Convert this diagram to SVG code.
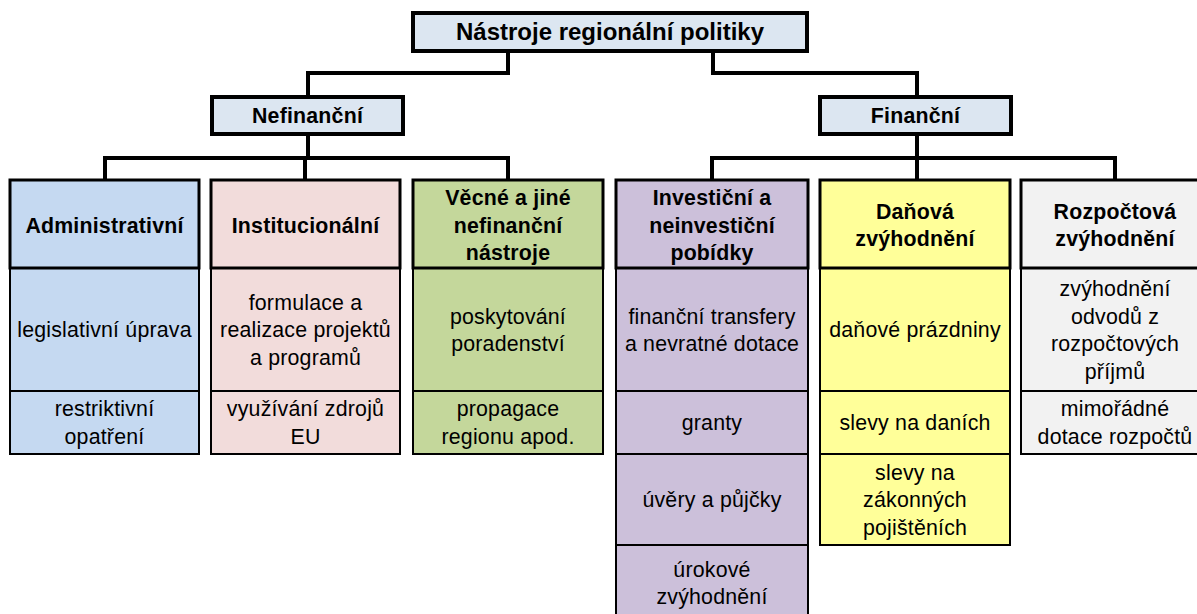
<svg xmlns="http://www.w3.org/2000/svg" width="1197" height="614" viewBox="0 0 1197 614">
<style>
text{font-family:"Liberation Sans",Arial,sans-serif;font-size:21.33px;fill:#000;text-anchor:middle;letter-spacing:0.2px}
.b{font-weight:bold}
.t{font-size:24px;font-weight:bold;letter-spacing:0}
.top{fill:#DCE6F1;stroke:#000;stroke-width:4}
.hd{stroke:#000;stroke-width:3}
.cl{stroke:#000;stroke-width:2}
.con{fill:none;stroke:#000;stroke-width:4}
.blue{fill:#C5D9F1}.pink{fill:#F2DCDB}.green{fill:#C4D79B}.purple{fill:#CCC0DA}.yellow{fill:#FFFF99}.grey{fill:#F2F2F2}
</style>
<rect width="1197" height="614" fill="#fff"/>
<g id="connectors">
<polyline class="con" points="508,51 508,73 308,73 308,97"/>
<polyline class="con" points="713,51 713,73 917,73 917,97"/>
<polyline class="con" points="308,134 308,158"/>
<polyline class="con" points="105,180 105,158 508,158 508,180"/>
<polyline class="con" points="305,158 305,180"/>
<polyline class="con" points="917,134 917,158"/>
<polyline class="con" points="712,180 712,158 1115,158 1115,180"/>
<polyline class="con" points="917,158 917,180"/>
</g>
<g id="root">
<rect class="top" x="413" y="13" width="394" height="38"/>
<text class="t" x="610" y="39.5">Nástroje regionální politiky</text>
</g>
<g id="nefinancni">
<rect class="top" x="212" y="97" width="191" height="37"/>
<text class="b" x="307.5" y="123">Nefinanční</text>
</g>
<g id="financni">
<rect class="top" x="820" y="97" width="191" height="37"/>
<text class="b" x="915.5" y="123">Finanční</text>
</g>
<g id="administrativni">
<rect class="cl blue" x="10" y="268" width="189" height="123"/>
<rect class="cl blue" x="10" y="391" width="189" height="63"/>
<rect class="hd blue" x="10" y="180" width="189" height="88"/>
<text class="b" x="104.5" y="232.5">Administrativní</text>
<text x="104.5" y="337">legislativní úprava</text>
<text x="104.5" y="416">restriktivní</text>
<text x="104.5" y="443.5">opatření</text>
</g>
<g id="institucionalni">
<rect class="cl pink" x="211" y="268" width="189" height="123"/>
<rect class="cl pink" x="211" y="391" width="189" height="63"/>
<rect class="hd pink" x="211" y="180" width="189" height="88"/>
<text class="b" x="305.5" y="232.5">Institucionální</text>
<text x="305.5" y="309.5">formulace a</text>
<text x="305.5" y="337">realizace projektů</text>
<text x="305.5" y="364.5">a programů</text>
<text x="305.5" y="416">využívání zdrojů</text>
<text x="305.5" y="443.5">EU</text>
</g>
<g id="vecne">
<rect class="cl green" x="413" y="268" width="190" height="123"/>
<rect class="cl green" x="413" y="391" width="190" height="63"/>
<rect class="hd green" x="413" y="180" width="190" height="88"/>
<text class="b" x="508" y="205">Věcné a jiné</text>
<text class="b" x="508" y="232.5">nefinanční</text>
<text class="b" x="508" y="260">nástroje</text>
<text x="508" y="323.5">poskytování</text>
<text x="508" y="351">poradenství</text>
<text x="508" y="416">propagace</text>
<text x="508" y="443.5">regionu apod.</text>
</g>
<g id="investicni">
<rect class="cl purple" x="616" y="268" width="192" height="123"/>
<rect class="cl purple" x="616" y="391" width="192" height="63"/>
<rect class="cl purple" x="616" y="454" width="192" height="91"/>
<rect class="cl purple" x="616" y="545" width="192" height="80"/>
<rect class="hd purple" x="616" y="180" width="192" height="88"/>
<text class="b" x="712" y="205">Investiční a</text>
<text class="b" x="712" y="232.5">neinvestiční</text>
<text class="b" x="712" y="260">pobídky</text>
<text x="712" y="323.5">finanční transfery</text>
<text x="712" y="351">a nevratné dotace</text>
<text x="712" y="430">granty</text>
<text x="712" y="507">úvěry a půjčky</text>
<text x="712" y="577">úrokové</text>
<text x="712" y="604">zvýhodnění</text>
</g>
<g id="danova">
<rect class="cl yellow" x="820" y="268" width="190" height="123"/>
<rect class="cl yellow" x="820" y="391" width="190" height="63"/>
<rect class="cl yellow" x="820" y="454" width="190" height="91"/>
<rect class="hd yellow" x="820" y="180" width="190" height="88"/>
<text class="b" x="915" y="218.5">Daňová</text>
<text class="b" x="915" y="246">zvýhodnění</text>
<text x="915" y="337">daňové prázdniny</text>
<text x="915" y="430">slevy na daních</text>
<text x="915" y="479.5">slevy na</text>
<text x="915" y="507">zákonných</text>
<text x="915" y="534.5">pojištěních</text>
</g>
<g id="rozpoctova">
<rect class="cl grey" x="1021" y="268" width="190" height="123"/>
<rect class="cl grey" x="1021" y="391" width="190" height="63"/>
<rect class="hd grey" x="1021" y="180" width="190" height="88"/>
<text class="b" x="1115" y="218.5">Rozpočtová</text>
<text class="b" x="1115" y="246">zvýhodnění</text>
<text x="1115" y="296">zvýhodnění</text>
<text x="1115" y="323.5">odvodů z</text>
<text x="1115" y="351">rozpočtových</text>
<text x="1115" y="378.5">příjmů</text>
<text x="1115" y="416">mimořádné</text>
<text x="1115" y="443.5">dotace rozpočtů</text>
</g>
</svg>
